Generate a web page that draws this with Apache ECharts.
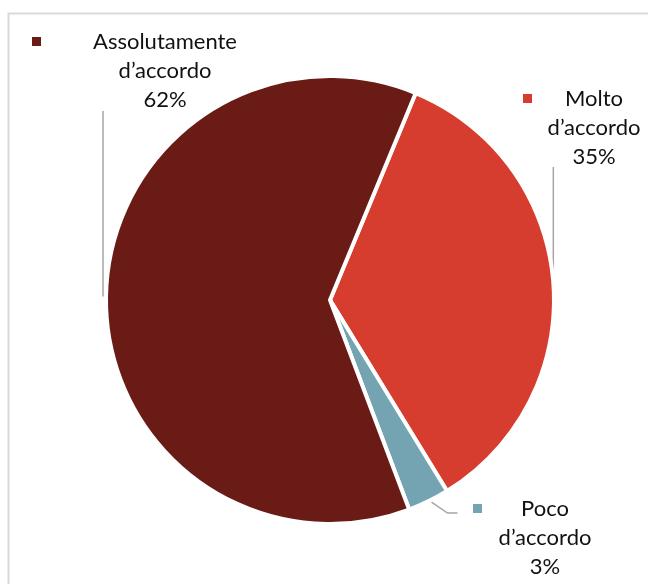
<!DOCTYPE html>
<html>
<head>
<meta charset="utf-8">
<script src="https://cdn.jsdelivr.net/npm/echarts@6/dist/echarts.min.js"></script>
<style>
  html, body { margin: 0; padding: 0; background: #ffffff; }
  #chart { width: 648px; height: 584px; }
</style>
</head>
<body>
<div id="chart"></div>
<script>
// Survey answers, in clockwise order starting from the upper right
const categories = ['Molto d’accordo', 'Poco d’accordo', 'Assolutamente d’accordo'];
const values = [35, 3, 62];
const colors = ['#D63D2E', '#74A4B2', '#6A1B15'];

// Label block placement: [left, top, gap after square, text box width]
const labelBoxes = [
  [523, 84, 7, 110],
  [473, 494, 8, 110],
  [32, 27, 44, 160]
];

const FONT = 'Lato, "Open Sans", sans-serif';

function labelText(p) {
  const lines = p.name.split(' ').concat([p.value + '%']);
  let s = '{sq|}{g|}{t|' + lines[0] + '}';
  for (let i = 1; i < lines.length; i++) {
    s += '\n{g2|}{t|' + lines[i] + '}';
  }
  return s;
}

const data = categories.map(function (name, i) {
  const box = labelBoxes[i];
  return {
    name: name,
    value: values[i],
    itemStyle: { color: colors[i] },
    label: {
      rich: {
        sq: { width: 9, height: 9, backgroundColor: colors[i] },
        g: { width: box[2] },
        g2: { width: box[2] + 9 },
        t: { width: box[3], align: 'center', fontSize: 22, lineHeight: 29, color: '#111111', fontFamily: FONT }
      }
    }
  };
});

const chart = echarts.init(document.getElementById('chart'), null, { renderer: 'canvas' });

chart.setOption({
  animation: false,
  backgroundColor: '#ffffff',
  graphic: [{
    type: 'rect',
    shape: { x: 8.5, y: 13.5, width: 700, height: 700 },
    style: { fill: 'none', stroke: '#d9d9d9', lineWidth: 2 },
    silent: true
  }],
  series: [{
    type: 'pie',
    center: [330, 300],
    radius: 224,
    startAngle: 67.5,
    clockwise: true,
    avoidLabelOverlap: false,
    emphasis: { disabled: true },
    itemStyle: { borderColor: '#ffffff', borderWidth: 4 },
    label: {
      show: true,
      position: 'outside',
      formatter: labelText,
      fontSize: 22,
      lineHeight: 29,
      fontFamily: FONT,
      color: '#111111'
    },
    labelLine: {
      show: true,
      lineStyle: { color: '#a6a6a6', width: 1.5 }
    },
    labelLayout: function (params) {
      const i = params.dataIndex;
      const box = labelBoxes[i];
      const p0 = params.labelLinePoints ? params.labelLinePoints[0] : [0, 0];
      let pts;
      if (i === 0) {
        pts = [[p0[0], p0[1]], [p0[0], box[1] + 83]];
      } else if (i === 1) {
        pts = [[p0[0] + 3, p0[1] + 1], [p0[0] + 19, box[1] + 19], [p0[0] + 29, box[1] + 19]];
      } else {
        pts = [[p0[0] - 3, p0[1]], [p0[0] - 3, box[1] + 84]];
      }
      return {
        x: box[0],
        y: box[1],
        align: 'left',
        verticalAlign: 'top',
        labelLinePoints: pts
      };
    },
    data: data
  }]
});
</script>
</body>
</html>
